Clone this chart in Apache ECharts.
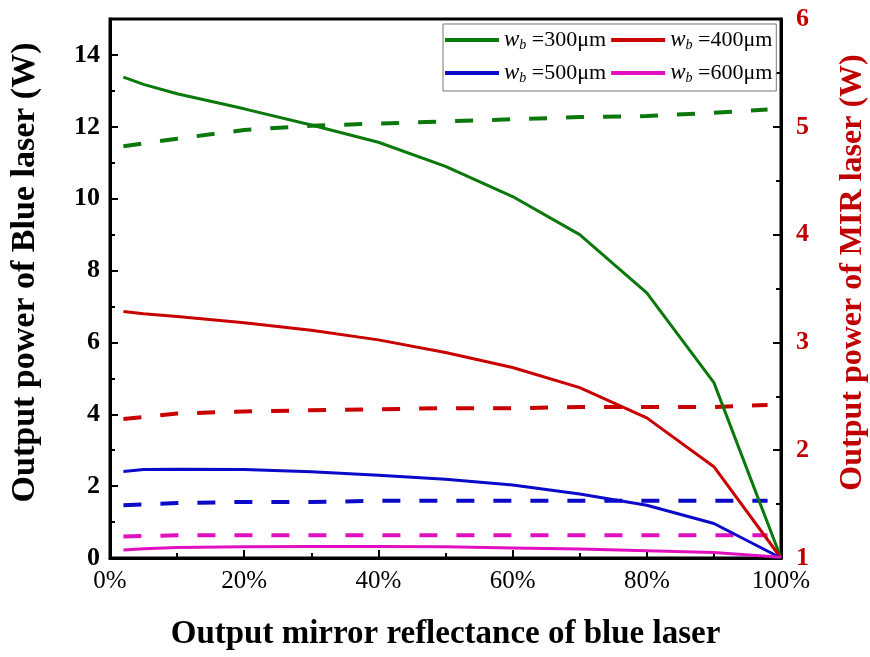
<!DOCTYPE html>
<html>
<head>
<meta charset="utf-8">
<script src="https://cdn.jsdelivr.net/npm/echarts@6/dist/echarts.min.js"></script>
<style>html,body{margin:0;padding:0;background:#fff}#c{width:870px;height:657px}</style>
</head>
<body>
<div id="c"></div>
<script>
// Reflectance (%) sample points
const reflSolid = [2, 5, 10, 20, 30, 40, 50, 60, 70, 80, 90, 100];
const reflDashed = [2, 10, 20, 30, 40, 50, 60, 70, 80, 90, 98];
// Blue laser output power (W), left axis
const blue300 = [13.38, 13.18, 12.92, 12.5, 12.05, 11.57, 10.9, 10.06, 9.0, 7.38, 4.88, 0];
const blue400 = [6.86, 6.8, 6.72, 6.55, 6.34, 6.07, 5.72, 5.3, 4.74, 3.9, 2.54, 0];
const blue500 = [2.41, 2.46, 2.47, 2.46, 2.4, 2.3, 2.19, 2.03, 1.78, 1.47, 0.96, 0];
const blue600 = [0.22, 0.26, 0.29, 0.31, 0.32, 0.32, 0.31, 0.28, 0.25, 0.2, 0.15, 0.02];
// MIR laser output power (W), right axis
const mir300 = [4.82, 4.89, 4.97, 5.01, 5.03, 5.05, 5.07, 5.09, 5.10, 5.13, 5.16];
const mir400 = [2.29, 2.34, 2.36, 2.37, 2.38, 2.39, 2.39, 2.40, 2.40, 2.40, 2.42];
const mir500 = [1.49, 1.51, 1.52, 1.52, 1.53, 1.53, 1.53, 1.53, 1.53, 1.53, 1.53];
const mir600 = [1.20, 1.21, 1.21, 1.21, 1.21, 1.21, 1.21, 1.21, 1.21, 1.21, 1.21];
const waists = ['300μm', '400μm', '500μm', '600μm'];
const colors = ['#0b780b', '#c80000', '#0a0ac8', '#e010c0'];

const pair = (xs, ys) => xs.map((x, i) => [x, ys[i]]);
const solids = [blue300, blue400, blue500, blue600];
const dashes = [mir300, mir400, mir500, mir600];
const names = waists.map(w => 'w_b =' + w);

const series = [];
solids.forEach((d, i) => series.push({
  name: names[i], type: 'line', yAxisIndex: 0, data: pair(reflSolid, d),
  showSymbol: false, symbol: 'none', lineStyle: { color: colors[i], width: 3 }, itemStyle: { color: colors[i] }, z: 3
}));
dashes.forEach((d, i) => series.push({
  name: names[i] + ' MIR', type: 'line', yAxisIndex: 1, data: pair(reflDashed, d),
  showSymbol: false, symbol: 'none', lineStyle: { color: colors[i], width: 4, type: [18, 19] }, itemStyle: { color: colors[i] }, z: 2
}));

const font = 'Liberation Serif';
const chart = echarts.init(document.getElementById('c'), null, { renderer: 'canvas' });
chart.setOption({
  animation: false,
  backgroundColor: '#fff',
  grid: { left: 110, right: 89, top: 19, bottom: 99, show: true, borderColor: '#000', borderWidth: 3, containLabel: false, outerBoundsMode: 'none' },
  legend: {
    data: names, left: 443, top: 24, width: 334, itemGap: 5,
    orient: 'horizontal', icon: 'rect', itemWidth: 54, itemHeight: 4,
    borderColor: '#777', borderWidth: 1, padding: [2, 4, 4, 2],
    formatter: n => '{i|w}{s|b} =' + n.split('=')[1],
    textStyle: {
      fontFamily: font, fontSize: 22, color: '#000', lineHeight: 28,
      rich: {
        i: { fontFamily: font, fontStyle: 'italic', fontSize: 23, color: '#000', lineHeight: 28 },
        s: { fontFamily: font, fontStyle: 'italic', fontSize: 14, color: '#000', lineHeight: 20, padding: [10, 0, 0, 0] }
      }
    }
  },
  xAxis: {
    type: 'value', min: 0, max: 100, interval: 20,
    name: 'Output mirror reflectance of blue laser', nameLocation: 'middle', nameGap: 60,
    nameTextStyle: { fontFamily: font, fontWeight: 'bold', fontSize: 33, color: '#000' },
    axisLine: { show: true, lineStyle: { color: '#000', width: 3 } },
    axisTick: { show: true, inside: true, length: 8, lineStyle: { color: '#000', width: 2 } },
    minorTick: { show: true, splitNumber: 2, length: 5, lineStyle: { color: '#000', width: 2 } },
    axisLabel: { formatter: '{value}%', fontFamily: font, fontSize: 25, color: '#000', margin: 11 },
    splitLine: { show: false }
  },
  yAxis: [{
    type: 'value', min: 0, max: 15, interval: 2, position: 'left',
    name: 'Output power of Blue laser (W)', nameLocation: 'middle', nameGap: 68,
    nameTextStyle: { fontFamily: font, fontWeight: 'bold', fontSize: 34, color: '#000', padding: [0, 0, 0, 32] },
    axisLine: { show: true, lineStyle: { color: '#000', width: 3 } },
    axisTick: { show: true, inside: true, length: 8, lineStyle: { color: '#000', width: 2 } },
    minorTick: { show: true, splitNumber: 2, length: 5, lineStyle: { color: '#000', width: 2 } },
    axisLabel: { fontFamily: font, fontWeight: 'bold', fontSize: 26, color: '#000', margin: 10, showMaxLabel: false },
    splitLine: { show: false }
  }, {
    type: 'value', min: 1, max: 6, interval: 1, position: 'right',
    name: 'Output power of MIR laser (W)', nameLocation: 'middle', nameGap: 56,
    nameTextStyle: { fontFamily: font, fontWeight: 'bold', fontSize: 32, color: '#c00000', padding: [0, 0, 0, 32] },
    axisLine: { show: true, lineStyle: { color: '#000', width: 3 } },
    axisTick: { show: true, inside: true, length: 8, lineStyle: { color: '#000', width: 2 } },
    minorTick: { show: true, splitNumber: 2, length: 5, lineStyle: { color: '#000', width: 2 } },
    axisLabel: { fontFamily: font, fontWeight: 'bold', fontSize: 26, color: '#c00000', margin: 15 },
    splitLine: { show: false }
  }],
  series: series
});
</script>
</body>
</html>
